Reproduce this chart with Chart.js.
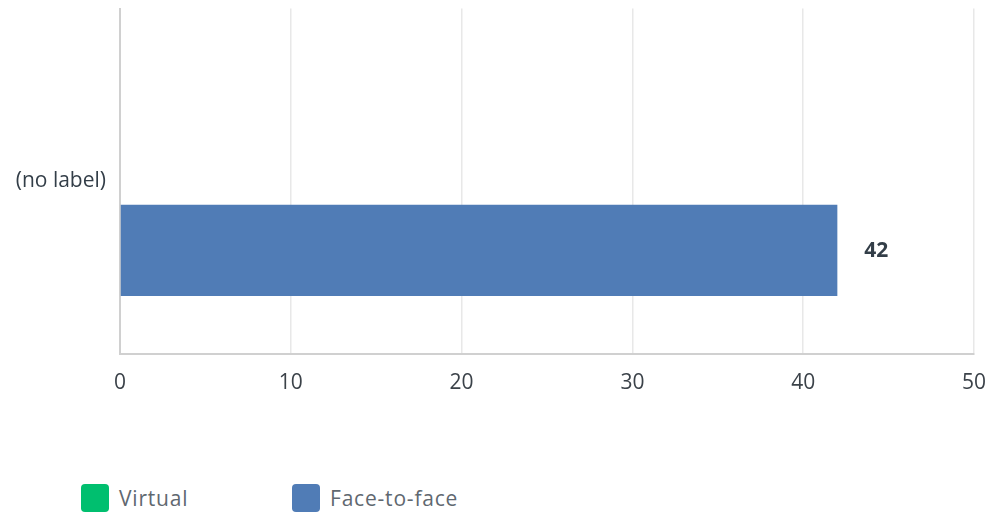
<!DOCTYPE html>
<html>
<head>
<meta charset="utf-8">
<script src="https://cdn.jsdelivr.net/npm/chart.js@4"></script>
<style>
    body { margin: 0; background: #fff; }
    .wrap { position: relative; width: 991px; height: 514px; overflow: hidden; }
    .plot { position: absolute; left: 0; top: -18px; width: 1002px; height: 428px; }
    .legend { position: absolute; left: 81px; top: 484px; display: flex; font-family: 'Open Sans', sans-serif; font-size: 21px; letter-spacing: 0.8px; color: #5f6870; }
    .legend .item { display: flex; align-items: center; height: 28px; }
    .legend .box { width: 28px; height: 28px; border-radius: 4px; margin-right: 10px; }
</style>
</head>
<body>
<div class="wrap">
    <div class="plot"><canvas id="myChart"></canvas></div>
    <div class="legend"></div>
</div>
<script>
const categories = ['(no label)'];
const series_names = ['Virtual', 'Face-to-face'];
const virtual_values = [0];
const face_values = [42];
const tick_values = [0, 10, 20, 30, 40, 50];
const colors = ['#00bf6f', '#507cb6'];

// value labels next to each bar
const bar_labels = {
    id: 'bar_labels',
    afterDatasetsDraw(chart) {
        const ctx = chart.ctx;
        ctx.save();
        ctx.font = 'bold 21px "Open Sans", sans-serif';
        ctx.fillStyle = '#333e48';
        ctx.textBaseline = 'middle';
        chart.data.datasets.forEach((ds, i) => {
            chart.getDatasetMeta(i).data.forEach((bar, j) => {
                const v = ds.data[j];
                if (!v) return;
                ctx.fillText(v, bar.x + 27, bar.y + 1);
            });
        });
        ctx.restore();
    }
};

function render_chart() {
    let ctx = document.getElementById('myChart');
    new Chart(ctx, {
        type: 'bar',
        data: {
            labels: categories,
            datasets: [{
                label: series_names[0],
                data: virtual_values,
                backgroundColor: colors[0]
            }, {
                label: series_names[1],
                data: face_values,
                backgroundColor: colors[1]
            }]
        },
        options: {
            indexAxis: 'y',
            responsive: true,
            maintainAspectRatio: false,
            animation: false,
            categoryPercentage: 0.8,
            barPercentage: 0.66,
            layout: { padding: 0 },
            plugins: {
                legend: { display: false },
                tooltip: { enabled: false }
            },
            scales: {
                x: {
                    min: tick_values[0],
                    max: tick_values[tick_values.length - 1],
                    afterBuildTicks: scale => {
                        scale.ticks = tick_values.map(v => ({ value: v }));
                    },
                    afterFit: scale => { scale.height = 56; },
                    grid: { color: '#e8e8e8', lineWidth: 1.5, drawTicks: false },
                    border: { color: '#d0d0d0', width: 2 },
                    ticks: {
                        padding: 16,
                        color: '#3b4249',
                        font: { family: "'Open Sans', sans-serif", size: 21 }
                    }
                },
                y: {
                    afterFit: scale => { scale.width = 120; },
                    grid: { display: false, drawTicks: false },
                    border: { color: '#d0d0d0', width: 2 },
                    ticks: {
                        padding: 14,
                        color: '#333e48',
                        font: { family: "'Open Sans', sans-serif", size: 21 }
                    }
                }
            }
        },
        plugins: [bar_labels]
    });
}

function render_legend() {
    let legend = document.querySelector('.legend');
    series_names.forEach((name, i) => {
        let item = document.createElement('div');
        item.className = 'item';
        item.style.width = i == 0 ? '211px' : 'auto';
        let box = document.createElement('span');
        box.className = 'box';
        box.style.background = colors[i];
        let text = document.createElement('span');
        text.innerHTML = name;
        item.appendChild(box);
        item.appendChild(text);
        legend.appendChild(item);
    });
}

render_chart();
render_legend();
</script>
</body>
</html>
